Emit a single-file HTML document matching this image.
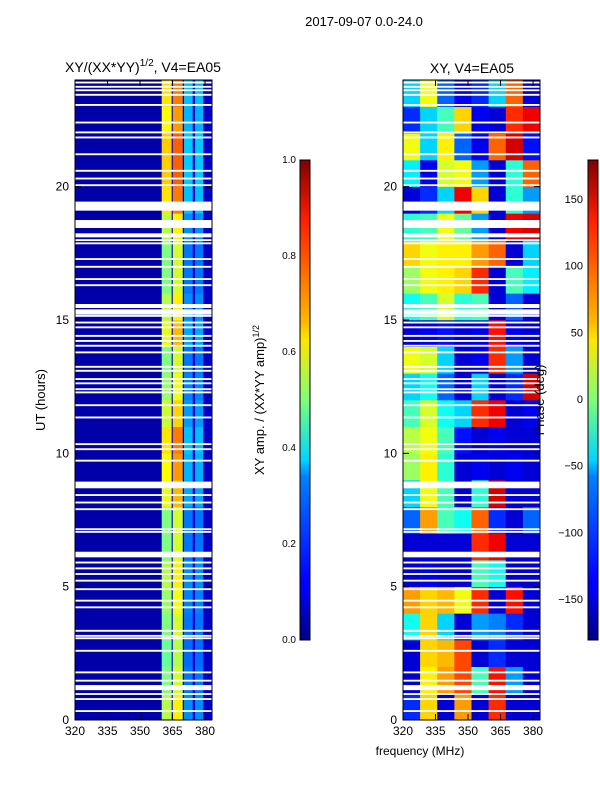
<!DOCTYPE html>
<html><head><meta charset="utf-8"><style>
body{margin:0;background:#fff;}
svg{display:block;font-family:"Liberation Sans",sans-serif;}
</style></head><body>
<svg id="fig" width="600" height="800">
<defs>
<linearGradient id="jet" x1="0" y1="1" x2="0" y2="0">
<stop offset="0" stop-color="#00007f"/><stop offset="0.11" stop-color="#0000ff"/><stop offset="0.125" stop-color="#0000ff"/><stop offset="0.34" stop-color="#0080ff"/><stop offset="0.375" stop-color="#00d4ff"/><stop offset="0.5" stop-color="#7dff7a"/><stop offset="0.625" stop-color="#ffe600"/><stop offset="0.66" stop-color="#ffb900"/><stop offset="0.875" stop-color="#ff1e00"/><stop offset="1" stop-color="#7f0000"/>
</linearGradient>
<clipPath id="c1"><rect x="75" y="80" width="137" height="640"/></clipPath>
<clipPath id="c2"><rect x="403" y="80" width="137" height="640"/></clipPath>
</defs>
<text x="364" y="26" font-size="13" text-anchor="middle">2017-09-07 0.0-24.0</text>
<text x="143" y="72" font-size="14" text-anchor="middle">XY/(XX*YY)<tspan font-size="10" dy="-6">1/2</tspan><tspan dy="6">, V4=EA05</tspan></text>
<text x="472" y="73" font-size="14" text-anchor="middle">XY, V4=EA05</text>
<g id="amp" clip-path="url(#c1)"></g>
<g id="phase" clip-path="url(#c2)"></g>
<g id="axes"></g>
<text transform="translate(45,400) rotate(-90)" font-size="13" text-anchor="middle">UT (hours)</text>
<text x="420" y="755" font-size="12" text-anchor="middle">frequency (MHz)</text>
<rect x="300" y="160" width="10" height="480" fill="url(#jet)" stroke="#000" stroke-width="1"/>
<rect x="588" y="160" width="10" height="480" fill="url(#jet)" stroke="#000" stroke-width="1"/>
<text transform="translate(264,400) rotate(-90)" font-size="13" text-anchor="middle">XY amp. / (XX*YY amp)<tspan font-size="9" dy="-5">1/2</tspan></text>
<text transform="translate(544,400) rotate(-90)" font-size="13" text-anchor="middle">Phase (deg)</text>
</svg>
<script>
const gapStarts=[23.87,23.71,23.58,23.41,23.03,22.37,22.0,21.81,21.18,20.56,20.27,20.02,19.37,19.1,18.45,18.1,17.96,17.84,17.25,16.96,16.5,16.27,15.45,15.2,15.12,14.87,14.69,14.37,14.18,14.0,13.75,13.21,13.06,12.75,12.59,12.37,12.25,11.77,11.31,10.31,10.12,9.69,8.69,8.4,8.12,7.87,7.12,7.02,6.1,5.87,5.65,5.44,5.19,4.87,4.44,4.19,3.31,3.12,3.03,2.56,1.75,1.44,1.12,0.94,0.75,0.3];
const gapLengths=[0.07,0.07,0.07,0.07,0.07,0.07,0.07,0.07,0.07,0.07,0.07,0.07,0.07,0.3,0.3,0.15,0.07,0.07,0.07,0.07,0.07,0.07,0.15,0.2,0.07,0.07,0.07,0.07,0.07,0.07,0.07,0.07,0.07,0.07,0.07,0.07,0.07,0.07,0.07,0.07,0.07,0.07,0.25,0.07,0.07,0.07,0.07,0.07,0.21,0.07,0.07,0.07,0.07,0.07,0.07,0.07,0.07,0.07,0.07,0.07,0.07,0.07,0.19,0.07,0.07,0.07];
const ampBandEdges=[320,360,364.6,365.1,369.7,370.3,374.3,375.4,379.1,383.2];
const ampBandValues=[0.04,0.5,0.08,0.58,0.08,0.24,0.08,0.24,0.07];
const ampRowGain=[1.1,1.0,0.95,1.0,1.05,1.1,1.0,1.0,1.2,1.25,1.3,1.15,1.05,1.0,1.2,1.1,1.0,1.0,1.1,1.3,1.35,1.35,1.25,1.3];
const phaseRows=[
[-120,60,-150,80,-150,120,-150,-150],[-150,50,80,110,-20,130,-80,-150],[-150,60,70,110,-150,-120,-150,-150],[-40,60,-60,-150,-80,-90,-120,-150],
[80,60,70,40,120,-150,130,-150],[-150,-140,-150,-150,-20,-40,-150,-150],[-150,-150,-150,-150,120,140,-150,-150],[-100,80,-20,-40,100,-120,-150,-100],
[-60,40,-20,-150,-30,150,-150,-150],[10,50,-30,-150,-140,-150,-140,-150],[20,40,-20,-130,-150,-140,-150,-150],[-20,30,-40,-60,120,140,-150,-140],
[-60,-40,-100,-150,-60,-150,-120,150],[40,30,-60,-150,-140,120,-80,-150],[-150,-140,-130,-150,-140,130,-140,-150],[-40,-20,30,-30,-20,-150,-100,-150],
[10,40,50,60,120,-150,-20,-50],[60,40,50,50,80,100,-150,-60],[-30,-20,40,-10,-80,-150,140,150],[-150,-120,-60,140,60,-150,-30,-80],
[-50,-140,30,40,-80,-150,-30,100],[40,-60,50,-100,-140,100,150,-130],[-120,-60,-20,60,-140,-150,120,140],[-60,40,-100,-140,-120,-60,100,-150]];
const xTicks=[320,335,350,365,380];
const yTicks=[0,5,10,15,20];
const ampTicks=[0.0,0.2,0.4,0.6,0.8,1.0];
const phaseTicks=[-150,-100,-50,0,50,100,150];

const NS='http://www.w3.org/2000/svg';
const fMin=320,fMax=383.2;
function xs(f,x0){return x0+(f-fMin)/(fMax-fMin)*137;}
function ys(h){return 720-h/24*640;}
function jet(t){t=Math.max(0,Math.min(1,t));const c=v=>Math.round(255*Math.max(0,Math.min(1,v)));
return `rgb(${c(1.5-Math.abs(4*t-3))},${c(1.5-Math.abs(4*t-2))},${c(1.5-Math.abs(4*t-1))})`;}
function rect(g,x,y,w,h,fill,name){const r=document.createElementNS(NS,'rect');
r.setAttribute('x',x);r.setAttribute('y',y);r.setAttribute('width',w);r.setAttribute('height',h);r.setAttribute('fill',fill);


g.appendChild(r);return r;}
function text(x,y,s,anchor,size){const t=document.createElementNS(NS,'text');t.setAttribute('x',x);t.setAttribute('y',y);
t.setAttribute('font-size',size||12);t.setAttribute('text-anchor',anchor);t.textContent=s;


document.getElementById('axes').appendChild(t);}
function line(x1,y1,x2,y2,w){const l=document.createElementNS(NS,'line');l.setAttribute('x1',x1);l.setAttribute('y1',y1);l.setAttribute('x2',x2);l.setAttribute('y2',y2);
l.setAttribute('stroke','#000');l.setAttribute('stroke-width',w||1);


document.getElementById('axes').appendChild(l);}

const amp=document.getElementById('amp');
for(let h=0;h<24;h++){for(let b=0;b<ampBandValues.length;b++){
 const bright=ampBandValues[b]>0.2;
 const v=bright?ampBandValues[b]*ampRowGain[h]:ampBandValues[b];
 const x1=xs(ampBandEdges[b],75),x2=xs(ampBandEdges[b+1],75);
 rect(amp,x1,ys(h+1),x2-x1+0.3,640/24+0.3,jet(v),'amp-cell');}}
const ph=document.getElementById('phase');
const nc=phaseRows[0].length;
for(let h=0;h<24;h++){for(let c=0;c<nc;c++){
 const f1=fMin+(fMax-fMin)*c/nc,f2=fMin+(fMax-fMin)*(c+1)/nc;
 rect(ph,xs(f1,403),ys(h+1),xs(f2,403)-xs(f1,403)+0.3,640/24+0.3,jet((phaseRows[h][c]+180)/360),'phase-cell');}}
for(let i=0;i<gapStarts.length;i++){
 const y=ys(gapStarts[i]+gapLengths[i]),hh=ys(gapStarts[i])-y;
 rect(amp,75,y,137,hh,'#fff','flag-gap');
 rect(ph,403,y,137,hh,'#fff','flag-gap');}

[75,403].forEach(x0=>{
 const fr=rect(document.getElementById('axes'),x0,80,137,640,'none','axes-frame');fr.setAttribute('stroke','#000');
 xTicks.forEach(f=>{const x=xs(f,x0);line(x,720,x,714);line(x,80,x,86);text(x,735,f,'middle',12);});
 yTicks.forEach(h=>{const y=ys(h);line(x0,y,x0+6,y);line(x0+137,y,x0+131,y);text(x0-6,y+4,h,'end',12);});
});
ampTicks.forEach(v=>{const y=640-v*480;line(300,y,304,y);line(310,y,306,y);text(296,y+3,v.toFixed(1),'end',10);});
phaseTicks.forEach(v=>{const y=640-(v+180)/360*480;line(588,y,592,y);line(598,y,594,y);text(583,y+3,v<0?'\u2212'+(-v):v,'end',11);});
</script>
</body></html>
